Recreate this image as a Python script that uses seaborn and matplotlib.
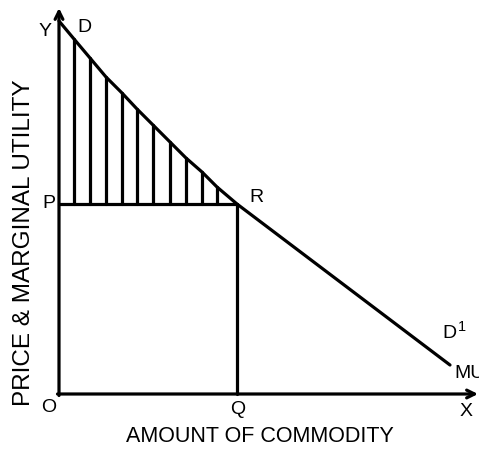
import matplotlib
matplotlib.use("Agg")
import matplotlib.pyplot as plt
import seaborn as sns
import pandas as pd

sns.set_style("white")
plt.rcParams["font.family"] = ["Liberation Sans", "DejaVu Sans"]
plt.rcParams["text.color"] = "black"

# demand / marginal utility curve D-D1 (quantity, price)
curve_q = [0, 15, 31, 47, 63, 78, 94, 111, 127, 143, 158, 178, 391]
curve_p = [373, 355, 336, 317, 301, 285, 269, 252, 236, 222, 207, 190, 29]

# equilibrium point R
price_p = 190
quantity_q = 178

# hatching (consumer surplus) drawn at these curve points
hatch_idx = list(range(1, 11))

x_label = "AMOUNT OF COMMODITY"
y_label = "PRICE & MARGINAL UTILITY"

LW = 2.3
FS = 14

fig = plt.figure(figsize=(4.79, 4.5), dpi=100)
ax = fig.add_axes([0, 0, 1, 1])
ax.set_xlim(-59, 420)
ax.set_ylim(-56, 394)
ax.axis("off")

df = pd.DataFrame({"q": curve_q, "p": curve_p})
sns.lineplot(data=df, x="q", y="p", sort=False, color="black", lw=LW, ax=ax)

# axes with arrows
ax.annotate("", xy=(0, 386), xytext=(0, -1.5),
            arrowprops=dict(arrowstyle="->", lw=LW, color="black",
                            mutation_scale=14, shrinkA=0, shrinkB=0))
ax.annotate("", xy=(419, 0), xytext=(-1.5, 0),
            arrowprops=dict(arrowstyle="->", lw=LW, color="black",
                            mutation_scale=14, shrinkA=0, shrinkB=0))

# price line P-R and quantity line R-Q
ax.plot([0, quantity_q], [price_p, price_p], color="black", lw=LW)
ax.plot([quantity_q, quantity_q], [0, price_p], color="black", lw=LW)

# vertical hatching between P line and the curve
for i in hatch_idx:
    ax.plot([curve_q[i], curve_q[i]], [price_p, curve_p[i]], color="black", lw=LW)

# point labels
ax.text(-14, 363, "Y", fontsize=FS, ha="center", va="center")
ax.text(25, 366, "D", fontsize=FS, ha="center", va="center")
ax.text(-10, 191, "P", fontsize=FS, ha="center", va="center")
ax.text(197, 196, "R", fontsize=FS, ha="center", va="center")
ax.text(-10, -14, "O", fontsize=FS, ha="center", va="center")
ax.text(179, -15, "Q", fontsize=FS, ha="center", va="center")
ax.text(407, -17, "X", fontsize=FS, ha="center", va="center")
ax.text(383, 60, "D", fontsize=FS, ha="left", va="center")
ax.text(399, 67, "1", fontsize=10.5, ha="left", va="center")
ax.text(395, 21, "MU", fontsize=FS, ha="left", va="center")

# axis titles
ax.text(201, -43, x_label, fontsize=15.5, ha="center", va="center")
ax.text(-35, 151, y_label, fontsize=17.5, ha="center", va="center", rotation=90)

fig.savefig("out.png", dpi=100)
